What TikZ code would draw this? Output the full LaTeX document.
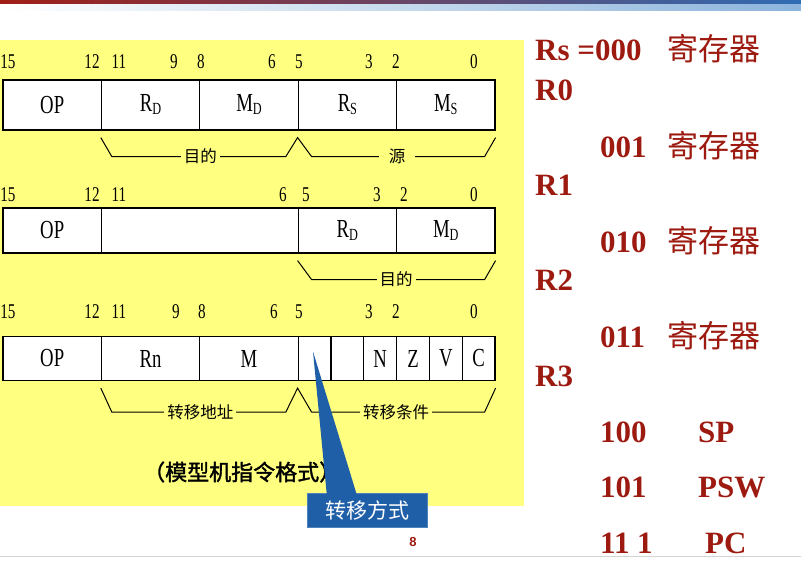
\documentclass[tikz,border=0pt]{standalone}
\usepackage{fontspec}
\setmainfont{Liberation Serif}
\newfontfamily\cjk{Noto Sans CJK SC}
\newfontfamily\cjkbold[FakeBold=1.5]{Noto Sans CJK SC}
\newfontfamily\narrowserif[FakeStretch=0.72]{Liberation Serif}
\newfontfamily\pagefont{Liberation Sans}
\usetikzlibrary{calc}
\definecolor{slideyellow}{RGB}{255,255,128}
\definecolor{regred}{RGB}{156,26,16}
\definecolor{callblue}{RGB}{31,95,168}
\definecolor{calledge}{RGB}{80,130,190}
\definecolor{topred}{RGB}{160,30,22}
\definecolor{topmauve}{RGB}{155,110,115}
\definecolor{topblue}{RGB}{48,108,180}
\definecolor{bandmid}{RGB}{200,218,235}
\definecolor{bandblue}{RGB}{140,180,220}
\definecolor{linegrey}{RGB}{212,212,212}
\newcommand{\fieldsub}[2]{#1\raisebox{-3pt}{\fontsize{17}{17}\selectfont #2}}

\begin{document}
\begin{tikzpicture}
[x=1pt,y=-1pt,
  fieldbox/.style={shape=rectangle,draw,line width=1.2pt,fill=white,inner sep=0pt,
    font=\narrowserif\fontsize{26}{26}\selectfont},
  bitnum/.style={inner sep=0pt,font=\narrowserif\fontsize{21}{21}\selectfont},
  bracedecorate/.style={-,line width=1pt},
  bracelabel/.style={fill=slideyellow,inner sep=3pt,font=\cjk\fontsize{16.5}{16.5}\selectfont},
  regtext/.style={anchor=base west,inner sep=0pt,text=regred,font=\bfseries\fontsize{31}{31}\selectfont},
  regcjk/.style={anchor=base west,inner sep=0pt,text=regred,font=\cjk\fontsize{31}{31}\selectfont}]
\useasboundingbox (0,0) rectangle (801,562);
%% slide background
\shade[left color=topred,middle color=topmauve,right color=topblue] (0,0) rectangle (801,4);
\shade[left color=white,middle color=bandmid,right color=bandblue] (0,4) rectangle (801,10);
\fill[slideyellow] (0,40) rectangle (524,506);
\draw[line width=1pt,linegrey] (0,556.5) -- (801,556.5);
%% first format: bit numbers and fields
\foreach \bit/\x in {15/8, 12/92, 11/119, 9/174, 8/201, 6/272, 5/299, 3/369, 2/396, 0/474}
{
  \node[bitnum] (b1-\bit) at (\x,62) {\bit};
}
\foreach \name/\x/\txt in {op1/52.2/OP, rd1/150.6/{\fieldsub{R}{D}}, md1/249/{\fieldsub{M}{D}},
  rs1/347.4/{\fieldsub{R}{S}}, ms1/445.8/{\fieldsub{M}{S}}}
{
  \node[fieldbox,minimum width=98.4pt,minimum height=50pt] (\name) at (\x,105) {\txt};
}
%% second format
\foreach \bit/\x in {15/8, 12/92, 11/119, 6/283, 5/306, 3/377, 2/404, 0/474}
{
  \node[bitnum] (b2-\bit) at (\x,195) {\bit};
}
\node[fieldbox,minimum width=98.4pt,minimum height=45pt] (op2) at (52.2,230.5) {OP};
\node[fieldbox,minimum width=196.8pt,minimum height=45pt] (blank2) at (199.8,230.5) {};
\node[fieldbox,minimum width=98.4pt,minimum height=45pt] (rd2) at (347.4,230.5) {\fieldsub{R}{D}};
\node[fieldbox,minimum width=98.4pt,minimum height=45pt] (md2) at (445.8,230.5) {\fieldsub{M}{D}};
%% third format
\foreach \bit/\x in {15/8, 12/92, 11/119, 9/176, 8/202, 6/274, 5/299, 3/369, 2/396, 0/474}
{
  \node[bitnum] (b3-\bit) at (\x,312) {\bit};
}
\foreach \name/\x/\txt in {op3/52.2/OP, rn3/150.6/Rn, m3/249/M}
{
  \node[fieldbox,minimum width=98.4pt,minimum height=44pt] (\name) at (\x,358.5) {\txt};
}
\foreach \name/\x/\txt in {s1/314.6/{}, s2/347.4/{}, n3/380.2/N, z3/413/Z, v3/445.8/V, c3/478.6/C}
{
  \node[fieldbox,minimum width=32.8pt,minimum height=44pt] (\name) at (\x,358.5) {\txt};
}
%% braces under the fields
\draw[bracedecorate] ([yshift=-7pt]rd1.south west) -- ++(11,19) -- ++(174,0)
  -- ([yshift=-7pt]rs1.south west) -- ++(14,19) -- ++(173,0) -- ([yshift=-7pt]ms1.south east);
\draw[bracedecorate] ([yshift=-7pt]rd2.south west) -- ++(14,19) -- ++(173,0)
  -- ([yshift=-7pt]md2.south east);
\draw[bracedecorate] ([yshift=-7pt]rn3.south west) -- ++(11,24) -- ++(174,0)
  -- ([yshift=-7pt]s1.south west) -- ++(14,24) -- ++(173,0) -- ([yshift=-7pt]c3.south east);
\node[bracelabel] (dst1) at ($(rd1.south east)+(0,26)$) {目的};
\node[bracelabel,inner xsep=10pt] (src1) at ($(rs1.south east)+(0,26)$) {源};
\node[bracelabel] (dst2) at ($(md2.south west)+(0,26)$) {目的};
\node[bracelabel] (addr3) at ($(rn3.south east)+(0,31)$) {转移地址};
\node[bracelabel] (cond3) at ($(z3.south west)+(0,31)$) {转移条件};
%% caption and callout
\node[anchor=west,inner sep=0pt,font=\cjkbold\fontsize{22}{22}\selectfont] (caption) at (143,472) {（模型机指令格式）};
\node[fill=callblue,draw=calledge,minimum width=120pt,minimum height=34pt,text=white,
  font=\cjk\fontsize{21}{21}\selectfont] (callout) at (367,510) {转移方式};
\coordinate (tip) at ([xshift=-1.6pt,yshift=7pt]s1.center);
\fill[callblue] (tip) -- ([xshift=20pt,yshift=-2pt]callout.north west)
  -- ([xshift=50pt,yshift=-2pt]callout.north west) -- cycle;
\node[text=regred,font=\pagefont\bfseries\fontsize{13}{13}\selectfont] (pagenum) at (413,542) {8};
%% register codes on the right
\foreach \name/\x/\y/\txt in {rs/535/60/{Rs =000}, r0/535/100/R0, c1/600/157/001, r1/535/195/R1,
  c2/600/252/010, r2/535/290/R2, c3/600/347/011, r3/535/386/R3, c4/600/442/100, sp/698/442/SP,
  c5/600/497/101, psw/698/497/PSW, c6/600/553/{11 1}, pc/705/553/PC}
{
  \node[regtext] (reg-\name) at (\x,\y) {\txt};
}
\foreach \name/\y in {k0/60, k1/157, k2/252, k3/347}
{
  \node[regcjk] (\name) at (667,\y) {寄存器};
}
\end{tikzpicture}
\end{document}
